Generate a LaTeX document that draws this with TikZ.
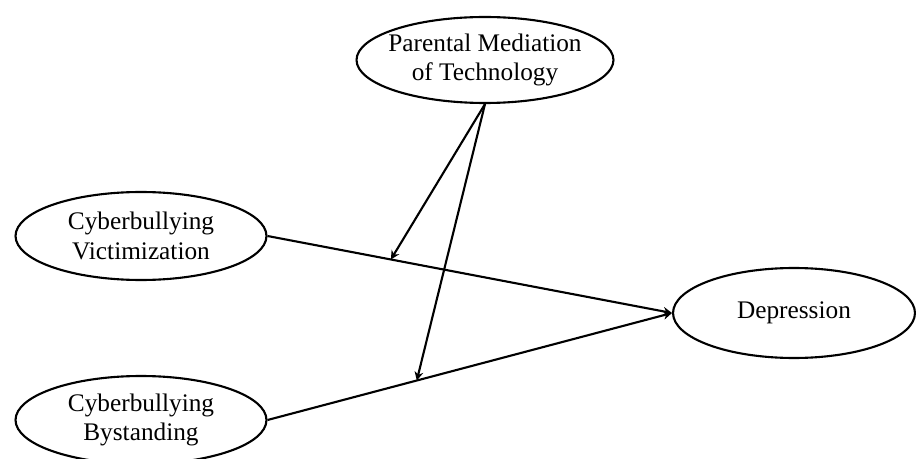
\documentclass[tikz,border=0pt]{standalone}
\usepackage{fontspec}
\setmainfont{Liberation Serif}
\usetikzlibrary{shapes.geometric, arrows.meta, positioning, calc}

\begin{document}
\begin{tikzpicture}[x=0.02cm, y=-0.02cm]
            \tikzstyle{latent} = [ellipse, draw, line width=1.2pt, inner xsep=-10pt, inner ysep=0pt, align=center, font=\fontsize{14.4}{17}\selectfont]
            \tikzstyle{arrow} = [line width=1.2pt,-{Stealth[length=5pt,width=5pt]}]
            \useasboundingbox (0,0) rectangle (916,459);

            \node[latent, minimum width=5.14cm, minimum height=1.72cm] (par) at (485,60) {Parental Mediation\\of Technology};
            \node[latent, minimum width=5.02cm, minimum height=1.76cm] (vic) at (141,236) {Cyberbullying\\Victimization};
            \node[latent, minimum width=5.02cm, minimum height=1.76cm] (bys) at (141,420) {Cyberbullying\\Bystanding};
            \node[latent, minimum width=4.84cm, minimum height=1.80cm] (dep) at (794,313) {Depression};

            \draw[arrow] (vic.east) -- coordinate[pos=0.305] (m1) (dep.west);
            \draw[arrow] (bys.east) -- coordinate[pos=0.369] (m2) (dep.west);
            \draw[arrow] (par.south) -- (m1);
            \draw[arrow] (par.south) -- (m2);
        \end{tikzpicture}
\end{document}
